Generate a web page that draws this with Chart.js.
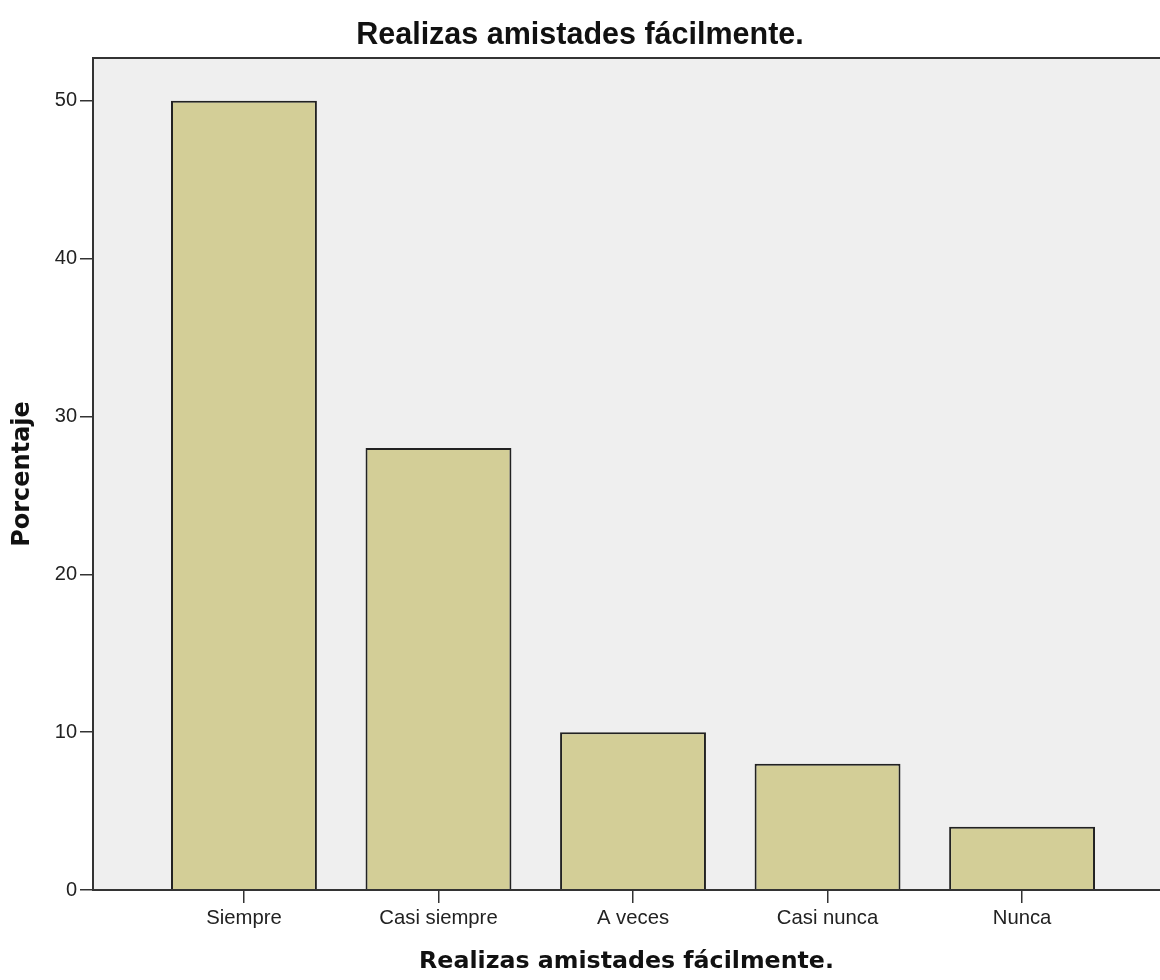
<!DOCTYPE html>
<html>
<head>
<meta charset="utf-8">
<script src="https://cdn.jsdelivr.net/npm/chart.js@4"></script>
<style>
  html, body { margin: 0; padding: 0; background: #fff; }
  #wrap { width: 1160px; height: 980px; }
</style>
</head>
<body>
<div id="wrap"><canvas id="myChart" width="1160" height="980"></canvas></div>
<script>
const categories = ["Siempre", "Casi siempre", "A veces", "Casi nunca", "Nunca"];
const percentages = [50, 28, 10, 8, 4];
const yTicks = [0, 10, 20, 30, 40, 50];

const chartTitle = "Realizas amistades fácilmente.";

// plot background + frame (left, top, bottom)
const plotFrame = {
  id: "plotFrame",
  beforeDatasetsDraw(chart) {
    const { ctx, chartArea: a } = chart;
    ctx.save();
    ctx.fillStyle = "#efefef";
    ctx.fillRect(a.left, a.top, a.right - a.left, a.bottom - a.top);
    ctx.restore();
  },
  afterDatasetsDraw(chart) {
    const { ctx, chartArea: a } = chart;
    ctx.save();
    ctx.strokeStyle = "#333";
    ctx.lineWidth = 2;
    ctx.beginPath();
    ctx.moveTo(a.right + 2, a.top);
    ctx.lineTo(a.left, a.top);
    ctx.lineTo(a.left, a.bottom);
    ctx.lineTo(a.right + 2, a.bottom);
    ctx.stroke();
    ctx.restore();
  },
};

const ctx = document.getElementById("myChart");

new Chart(ctx, {
  type: "bar",
  data: {
    datasets: [
      {
        data: percentages.map((v, i) => ({ x: i, y: v })),
        backgroundColor: "#d3ce97",
        borderColor: "#222",
        borderWidth: 2,
        borderSkipped: "bottom",
        barPercentage: 0.75,
        categoryPercentage: 1,
      },
    ],
  },
  options: {
    responsive: false,
    animation: false,
    layout: { padding: 0 },
    scales: {
      x: {
        type: "linear",
        offset: false,
        min: -0.776,
        max: 4.709,
        afterBuildTicks: (scale) => {
          scale.ticks = categories.map((c, i) => ({ value: i }));
        },
        afterFit: (scale) => {
          scale.height = 90;
        },
        ticks: {
          callback: (v) => categories[v],
          font: { family: "Liberation Sans", size: 20.3 },
          color: "#222",
          padding: 3,
          maxRotation: 0,
        },
        grid: {
          offset: false,
          drawOnChartArea: false,
          tickLength: 13,
          color: "#333",
          lineWidth: 1.5,
        },
        border: { display: false },
        title: {
          display: true,
          text: chartTitle,
          font: { family: "DejaVu Sans", size: 23.7, weight: "bold", lineHeight: 1.2 },
          color: "#111",
          padding: { top: 0, bottom: 4 },
        },
      },
      y: {
        min: 0,
        max: 52.7,
        afterBuildTicks: (scale) => {
          scale.ticks = yTicks.map((v) => ({ value: v }));
        },
        afterFit: (scale) => {
          scale.width = 93;
        },
        ticks: {
          font: { family: "Liberation Sans", size: 20 },
          color: "#222",
          padding: 3,
        },
        grid: {
          drawOnChartArea: false,
          tickLength: 13,
          color: "#333",
          lineWidth: 1.5,
        },
        border: { display: false },
        title: {
          display: true,
          text: "Porcentaje",
          font: { family: "DejaVu Sans", size: 24, weight: "bold", lineHeight: 1.2 },
          color: "#111",
          padding: { top: 8, bottom: 0 },
        },
      },
    },
    plugins: {
      legend: { display: false },
      tooltip: { enabled: false },
      title: {
        display: true,
        text: chartTitle,
        font: { family: "Liberation Sans", size: 30.5, weight: "bold", lineHeight: 1.2 },
        color: "#111",
        padding: { top: 17, bottom: 4.4 },
      },
    },
  },
  plugins: [plotFrame],
});
</script>
</body>
</html>
